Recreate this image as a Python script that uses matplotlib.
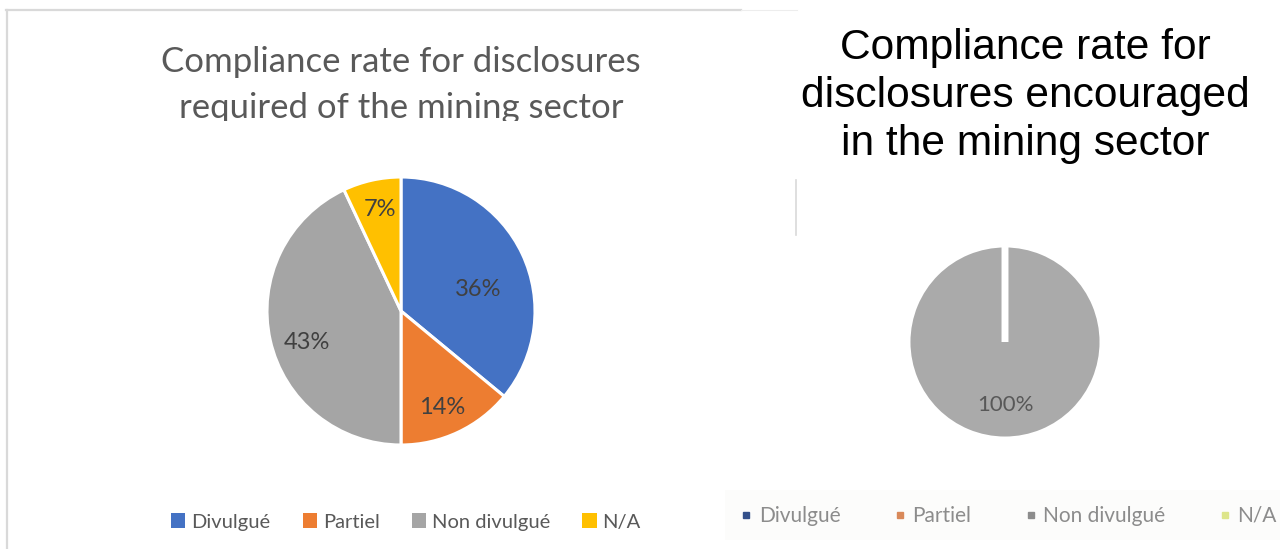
import matplotlib
matplotlib.use('Agg')
import matplotlib.pyplot as plt
from matplotlib.lines import Line2D
from matplotlib.patches import Rectangle
import numpy as np

# data
categories = ['Divulgué', 'Partiel', 'Non divulgué', 'N/A']
required_pct = [36, 14, 43, 7]
encouraged_pct = [0, 0, 100, 0]
colors = ['#4472C4', '#ED7D31', '#A5A5A5', '#FFC000']
colors_blur = ['#34508A', '#D9895A', '#8C8C8C', '#DDE58A']
title_left = 'Compliance rate for disclosures\nrequired of the mining sector'
title_right = 'Compliance rate for\ndisclosures encouraged\nin the mining sector'

W, H = 1280, 549
fig = plt.figure(figsize=(12.8, 5.49), dpi=100)


def px_axes(cx, cy, r):
    return fig.add_axes([(cx - r) / W, 1 - (cy + r) / H, 2 * r / W, 2 * r / H])


# borders of the left chart area
fig.add_artist(Line2D([6.5 / W, 6.5 / W], [0, 1 - 10 / H], color='#D9D9D9', lw=1.6))
fig.add_artist(Line2D([6 / W, 741 / W], [1 - 10 / H, 1 - 10 / H], color='#D9D9D9', lw=1.6))
fig.add_artist(Line2D([741 / W, 797 / W], [1 - 10 / H, 1 - 10 / H], color='#EDEDED', lw=0.8))
fig.add_artist(Line2D([796 / W, 796 / W], [1 - 180 / H, 1 - 235 / H], color='#D9D9D9', lw=1.2))

# left pie
ax1 = px_axes(401, 311, 134)
wedges, _ = ax1.pie(required_pct, colors=colors, startangle=90, counterclock=False,
                    radius=1.0, wedgeprops=dict(edgecolor='white', linewidth=2.2))
ax1.set_xlim(-1, 1)
ax1.set_ylim(-1, 1)
label_r = [0.60, 0.78, 0.74, 0.77]
label_shift = [-10, -2, 6, -1]
for w, v, rr, sh in zip(wedges, required_pct, label_r, label_shift):
    ang = np.deg2rad((w.theta1 + w.theta2) / 2 + sh)
    ax1.text(rr * np.cos(ang), rr * np.sin(ang), '%d%%' % v, ha='center', va='center',
             fontsize=17, color='#404040', family='Lato')

fig.text(401 / W, 1 - 62 / H, title_left.split('\n')[0], ha='center', va='center',
         fontsize=25, color='#595959', family='Lato')
fig.text(401 / W, 1 - 108 / H, title_left.split('\n')[1], ha='center', va='center',
         fontsize=25, color='#595959', family='Lato')
# the second title line is cut off at the bottom in the original
fig.add_artist(Rectangle((140 / W, 1 - 140 / H), 540 / W, 19 / H, transform=fig.transFigure,
                         facecolor='white', edgecolor='none', zorder=5))

handles = [Rectangle((0, 0), 1, 1, facecolor=c) for c in colors]
fig.legend(handles, categories, loc='center', bbox_to_anchor=(406 / W, 1 - 522 / H), ncol=4,
           frameon=False, prop=dict(family='Lato', size=14.5), labelcolor='#595959',
           handlelength=0.7, handleheight=0.7, handletextpad=0.3, columnspacing=1.6)

# right pie
ax2 = px_axes(1005, 342, 98)
wedges2, _ = ax2.pie(encouraged_pct, colors=['#AAAAAA'] * 4, startangle=90, counterclock=False,
                     radius=1.0, wedgeprops=dict(edgecolor='white', linewidth=5))
ax2.set_xlim(-1, 1)
ax2.set_ylim(-1, 1)
for w, v in zip(wedges2, encouraged_pct):
    if v > 0:
        ang = np.deg2rad((w.theta1 + w.theta2) / 2)
        ax2.text(0.64 * np.cos(ang), 0.64 * np.sin(ang), '%d%%' % v, ha='center', va='center',
                 fontsize=16, color='#4A4A4A', family='Lato', alpha=0.85)

fig.text(1025 / W, 1 - 96 / H, title_right, ha='center', va='center', fontsize=30.6,
         color='black', family='Liberation Sans', linespacing=1.27)

fig.add_artist(Rectangle((725 / W, 1 - 540 / H), 555 / W, 50 / H, transform=fig.transFigure,
                         facecolor='#FCFCFB', edgecolor='none', zorder=0))
handles2 = [Line2D([], [], marker='s', ls='none', color=c, markersize=4) for c in colors_blur]
fig.legend(handles2, categories, loc='center', bbox_to_anchor=(1009 / W, 1 - 516 / H), ncol=4,
           frameon=False, prop=dict(family='Lato', size=15), labelcolor='#8C8C8C',
           handlelength=0.5, handletextpad=0.35, columnspacing=2.6)

fig.savefig('out.png', dpi=100, facecolor='white')
